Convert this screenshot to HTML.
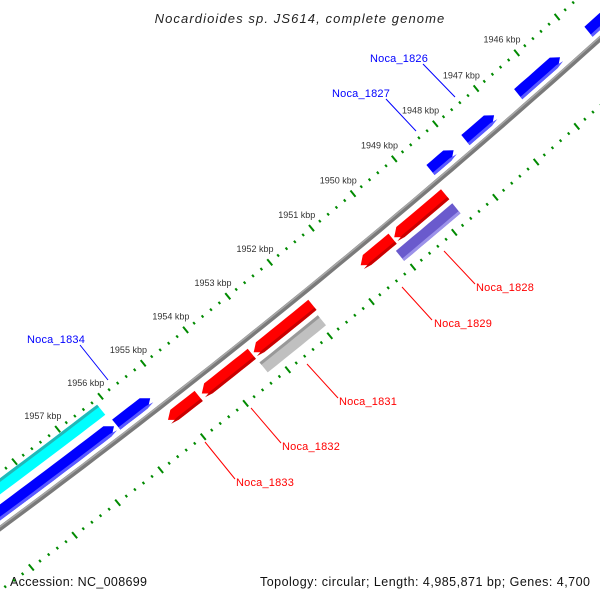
<!DOCTYPE html>
<html><head><meta charset="utf-8">
<style>
html,body{margin:0;padding:0;background:#fff;overflow:hidden;}
#wrap{position:relative;width:600px;height:600px;overflow:hidden;font-family:"Liberation Sans","DejaVu Sans",sans-serif;}
svg{position:absolute;left:0;top:0;overflow:hidden;}
</style></head>
<body>
<div id="wrap">
<svg id="map" width="600" height="600" viewBox="0 0 600 600">
  <text x="300" y="23" text-anchor="middle" font-style="italic" font-size="13" letter-spacing="1.1" fill="#222">Nocardioides sp. JS614, complete genome</text>
  <text x="10" y="586" font-size="12.5" textLength="137" lengthAdjust="spacing" fill="#111">Accession: NC_008699</text>
  <text x="260" y="586" font-size="12.5" textLength="330" lengthAdjust="spacing" fill="#111">Topology: circular; Length: 4,985,871 bp; Genes: 4,700</text>
  <g id="ticks"></g>
  <g id="backbone"></g>
  <g id="features"></g>
  <g id="labels"></g>
</svg>
</div>
<script>
// ---- data ----
const featNames  = ["gene-a","gene-b","gene-c","gene-d","gene-e","gene-f","gene-g","red-1","red-2","red-3","red-4","red-5","noca-1828-hit","noca-1831-hit"];
const featStart  = [1943500,1945431,1947056,1948048,1955311,1956159,1956148,1948685,1949960,1951887,1953330,1954587,1948689,1951931];
const featEnd    = [1944722,1946463,1947758,1948611,1956106,1959800,1959800,1949920,1950728,1953285,1954513,1955307,1950056,1953320];
const featStrand = [1,1,1,1,1,1,0,-1,-1,-1,-1,-1,0,0];
const featTrack  = [1,1,1,1,1,1,2,-1,-1,-1,-1,-1,-2,-2];
const featColor  = ["blue","blue","blue","blue","blue","blue","cyan","red","red","red","red","red","purple","gray"];
const tickStartKbp = 1943;
const tickEndKbp = 1960;
const labelFirstKbp = 1946;
const labelLastKbp = 1957;
const labelNames = ["Noca_1826","Noca_1827","Noca_1834","Noca_1828","Noca_1829","Noca_1831","Noca_1832","Noca_1833"];

// ---- geometry ----
const NS="http://www.w3.org/2000/svg";
const PX_PER_BP=0.054, REF_BP=1951000, P0x=340, P0y=263, dx=0.774, dy=-0.632, nx=0.632, ny=0.774;
function pt(bp,off){
  const s=(REF_BP-bp)*PX_PER_BP;
  const sm=s+42;
  const o=off-sm*sm/16200;
  return [P0x+s*dx+o*nx, P0y+s*dy+o*ny];
}
function onScreen(p){return p[0]>=-2&&p[0]<=602&&p[1]>=-2&&p[1]<=600;}
const trackOff={1:-13,2:-34,"-1":15,"-2":33};
const palette={
  blue:{body:"#0000ff",strip:"#5a5aff",side:1},
  cyan:{body:"#00ffff",strip:"#22b8b8",side:-1},
  red:{body:"#ff0000",strip:"#c80000",side:1},
  purple:{body:"#6a5acd",strip:"#9c92ea",side:1},
  gray:{body:"#c0c0c0",strip:"#999999",side:-1}
};
function el(tag,attrs,parent){const e=document.createElementNS(NS,tag);for(const k in attrs)e.setAttribute(k,attrs[k]);parent.appendChild(e);return e;}
function fmt(p){return p[0].toFixed(1)+","+p[1].toFixed(1);}

// backbone
const bb=document.getElementById("backbone");
function curvePts(off){const a=[];for(let b=1942800;b<=1960000;b+=250)a.push(fmt(pt(b,off)));return a.join(" ");}
const bb1=el("polyline",{points:curvePts(0),fill:"none",stroke:"#7a7a7a","stroke-width":5},bb);


const bb2=el("polyline",{points:curvePts(-1.5),fill:"none",stroke:"#a8a8a8","stroke-width":1.5},bb);



// ticks
const tg=document.getElementById("ticks");
const ringOff=[-45,50];
for(let k=tickStartKbp*5;k<=tickEndKbp*5;k++){
  const bp=k*200, major=(k%5===0);
  for(const r of ringOff){
    const len=major?4:1.4;
    const a=pt(bp,r-len), b=pt(bp,r+len);
    if(!onScreen(a)||!onScreen(b))continue;
    const t=el("line",{x1:a[0],y1:a[1],x2:b[0],y2:b[1],stroke:"#008a00","stroke-width":2},tg);
    
    
  }
  if(major&&bp>=labelFirstKbp*1000&&bp<=labelLastKbp*1000){
    const p=pt(bp,-62);
    const lt=el("text",{x:p[0]-4,y:p[1]+3,"text-anchor":"middle","font-size":"9",fill:"#333"},tg);
    lt.textContent=(bp/1000)+" kbp";
    
    
  }
}

// features
const fg=document.getElementById("features");
const HALF=6.5, ARROW=150;
function bandPoly(b1,b2,o1,o2,strand,oc){
  let s1=b1,s2=b2;
  if(strand===1)s1=b1+ARROW;
  if(strand===-1)s2=b2-ARROW;
  const top=[],bot=[];
  const n=Math.max(2,Math.ceil((s2-s1)/200));
  for(let i=0;i<=n;i++){const b=s1+(s2-s1)*i/n;top.push(pt(b,o1));bot.push(pt(b,o2));}
  const pts=[...top];
  if(strand===-1)pts.push(pt(b2,oc));
  for(let i=bot.length-1;i>=0;i--)pts.push(bot[i]);
  if(strand===1)pts.push(pt(b1,oc));
  return pts.map(fmt).join(" ");
}
for(let i=0;i<featStart.length;i++){
  const g=el("g",{},fg);
  
  
  const c=trackOff[featTrack[i]], pal=palette[featColor[i]];
  const body=el("polygon",{points:bandPoly(featStart[i],featEnd[i],c-HALF,c+HALF,featStrand[i],c),fill:pal.body},g);
  
  
  const a=pal.side===1?c+HALF-3:c-HALF, b=pal.side===1?c+HALF:c-HALF+3;
  const strip=el("polygon",{points:bandPoly(featStart[i],featEnd[i],a,b,featStrand[i],pal.side===1?c+HALF-1.5:c-HALF+1.5),fill:pal.strip},g);
  
  
}

// feature labels
const labelX=[370,332,27,476,434,339,282,236];
const labelY=[62,97,343,291,327,405,450,486];
const lineEnd=[[423,64,455,97],[386,99,416,131],[80,345,108,380],[475,284,444,251],[432,320,402,287],[338,398,307,364],[281,443,251,408],[235,479,205,442]];
const labelColor=["#0000ff","#0000ff","#0000ff","#ff0000","#ff0000","#ff0000","#ff0000","#ff0000"];
const lg=document.getElementById("labels");
for(let i=0;i<labelNames.length;i++){
  const L=lineEnd[i];
  const ln=el("line",{x1:L[0],y1:L[1],x2:L[2],y2:L[3],stroke:labelColor[i],"stroke-width":1},lg);
  
  
  const t=el("text",{x:labelX[i],y:labelY[i],"font-size":"11",fill:labelColor[i],"letter-spacing":"0.2"},lg);
  t.textContent=labelNames[i];
  
  
}
</script>
</body></html>
